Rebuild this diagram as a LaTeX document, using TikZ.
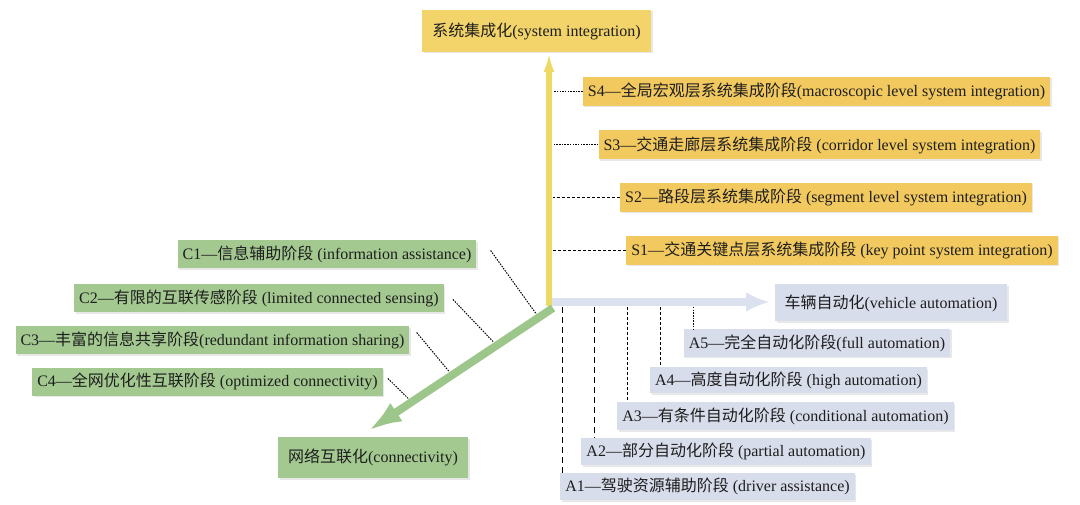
\documentclass[tikz,border=0pt]{standalone}
\usepackage{fontspec}
\setmainfont{Liberation Serif}
\newfontfamily\cjk{Noto Sans CJK SC}
\usetikzlibrary{arrows.meta,calc,shadows}
\newcommand{\zh}[1]{{\cjk #1}}
\definecolor{ybox}{HTML}{F3D46A}
\definecolor{sbox}{HTML}{F2C95E}
\definecolor{gbox}{HTML}{A3C990}
\definecolor{bbox}{HTML}{D8DDEB}
\definecolor{yline}{HTML}{F0D865}
\definecolor{gline}{HTML}{9DC68A}
\definecolor{bline}{HTML}{DCE1EF}
\definecolor{txt}{HTML}{1E1E1E}
\tikzset{
  box/.style={inner xsep=5pt, inner ysep=0pt, font=\fontsize{16}{18}\selectfont, text=txt,
    drop shadow={opacity=0.18, shadow xshift=1.5pt, shadow yshift=-1.5pt}},
  sb/.style={box, fill=sbox, minimum height=29pt},
  gb/.style={box, fill=gbox, minimum height=28pt},
  bb/.style={box, fill=bbox, minimum height=27pt},
  dotconn/.style={draw=black, line width=1pt, dash pattern=on 1.5pt off 1.2pt},
  dashconn/.style={draw=black, line width=1pt, dash pattern=on 3pt off 2pt},
  longdash/.style={draw=black, line width=1pt, dash pattern=on 6pt off 4pt},
}
\begin{document}
\begin{tikzpicture}[x=1pt,y=-1pt]
\useasboundingbox (0,0) rectangle (1080,505);
% axes
\coordinate (O) at (550,306);
\coordinate (gO) at (553,308);
\coordinate (gT) at (368,431);
\coordinate (bT) at (770,302);
\coordinate (yR) at (553,0);
% top boxes
\node[box, fill=ybox, minimum height=42pt, minimum width=229pt] (sys) at (536.5,31) {\zh{系统集成化}(system integration)};
\node[box, fill=bbox, minimum height=37pt, minimum width=232pt] (veh) at (891,303) {\zh{车辆自动化}(vehicle automation)};
\node[box, fill=gbox, minimum height=41pt, minimum width=190pt] (con) at (373,457.5) {\zh{网络互联化}(connectivity)};
% axis arrows
\draw[yline, line width=6pt, -{Latex[length=20pt,width=11pt]}] (549,306) -- (sys.south -| 549,0);
\draw[bline, line width=8pt, -{Latex[length=24pt,width=20pt]}] (552,302) -- (bT);
\draw[gline, line width=8pt, -{Latex[length=34pt,width=22pt]}] (gO) -- (gT);
% S stages
\node[sb] (S4) at (816.5,91.5) {S4—\zh{全局宏观层系统集成阶段}(macroscopic level system integration)};
\node[sb] (S3) at (819.5,145) {S3—\zh{交通走廊层系统集成阶段} (corridor level system integration)};
\node[sb] (S2) at (826,197.5) {S2—\zh{路段层系统集成阶段} (segment level system integration)};
\node[sb] (S1) at (842,250.5) {S1—\zh{交通关键点层系统集成阶段} (key point system integration)};
\draw[dotconn] (S4.west) -- (S4.west -| yR);
\draw[dotconn] (S3.west) -- (S3.west -| yR);
\draw[dashconn] (S2.west) -- (S2.west -| yR);
\draw[dashconn] (S1.west) -- (S1.west -| yR);
% C stages
\node[gb] (C1) at (327,254.5) {C1—\zh{信息辅助阶段} (information assistance)};
\node[gb] (C2) at (259,298.5) {C2—\zh{有限的互联传感阶段} (limited connected sensing)};
\node[gb] (C3) at (212.5,340.5) {C3—\zh{丰富的信息共享阶段}(redundant information sharing)};
\node[gb] (C4) at (207.5,381.5) {C4—\zh{全网优化性互联阶段} (optimized connectivity)};
\coordinate (c1e) at ($(gO)!0.09!(gT)+(0,-5)$);
\coordinate (c2e) at ($(gO)!0.32!(gT)+(0,-5)$);
\coordinate (c3e) at ($(gO)!0.56!(gT)+(0,-5)$);
\coordinate (c4e) at ($(gO)!0.78!(gT)+(0,-5)$);
\draw[dotconn] ($(C1.east)+(14,-4)$) -- (c1e);
\draw[dotconn] ($(C2.east)+(9,1)$) -- (c2e);
\draw[dotconn] ($(C3.east)+(7,-8)$) -- (c3e);
\draw[dotconn] ($(C4.east)+(5,-3)$) -- (c4e);
% A stages
\node[bb, minimum height=28pt] (A5) at (817,343) {A5—\zh{完全自动化阶段}(full automation)};
\node[bb, minimum height=26pt] (A4) at (788.5,380) {A4—\zh{高度自动化阶段} (high automation)};
\node[bb, minimum height=28pt] (A3) at (785.5,416) {A3—\zh{有条件自动化阶段} (conditional automation)};
\node[bb] (A2) at (726,451.5) {A2—\zh{部分自动化阶段} (partial automation)};
\node[bb] (A1) at (707.5,486.5) {A1—\zh{驾驶资源辅助阶段} (driver assistance)};
\coordinate (a1) at (562,307);
\coordinate (a2) at (594,307);
\coordinate (a3) at (627,307);
\coordinate (a4) at (660,307);
\coordinate (a5) at (693,307);
\draw[longdash] (a1) -- (a1 |- A1.north);
\draw[longdash] (a2) -- (a2 |- A2.north);
\draw[dashconn] (a3) -- (a3 |- A3.north);
\draw[dashconn] (a4) -- (a4 |- A4.north);
\draw[dotconn] (a5) -- (a5 |- A5.north);
\end{tikzpicture}
\end{document}
